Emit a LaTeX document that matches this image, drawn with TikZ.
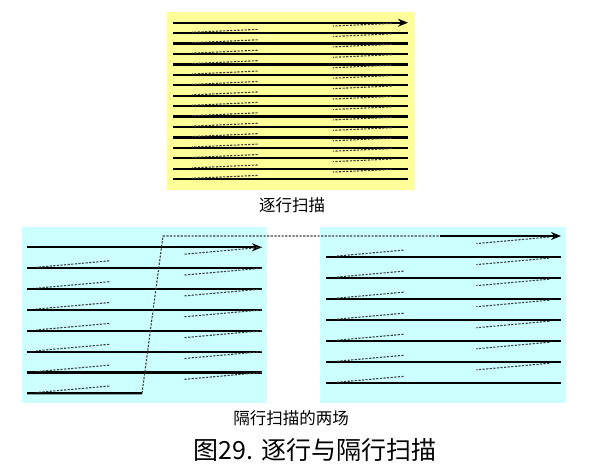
\documentclass[tikz,border=0pt]{standalone}
\usepackage{fontspec}
\newfontfamily\cjk{Noto Sans CJK SC}
\usetikzlibrary{arrows.meta,calc}
\definecolor{paleyellow}{RGB}{255,255,153}
\definecolor{palecyan}{RGB}{204,255,255}
\begin{document}
\begin{tikzpicture}[x=1pt,y=-1pt,
  scan/.style={line width=2.2pt},
  back/.style={black!75,line width=1.1pt,dash pattern=on 2.2pt off 1.4pt},
  tip/.style={-{Stealth[length=10pt,width=8pt]}}]
\useasboundingbox (0,0) rectangle (600,464);
\fill[paleyellow] (167,12) rectangle (415,190);
\fill[palecyan] (22,227) rectangle (267,403);
\fill[palecyan] (320,227) rectangle (566,403);
\foreach \i in {1,...,16} {
  \coordinate (a\i) at (173,{22.7+(\i-1)*10.43});
  \coordinate (b\i) at (408,{22.7+(\i-1)*10.43});
}
\draw[scan,tip] (a1)--(b1);
\foreach \i in {2,...,16} \draw[scan] (a\i)--(b\i);
\foreach \i [count=\j from 2] in {1,...,15} {
  \draw[back] ($(b\i)!0.07!(a\j)$)--($(b\i)!0.32!(a\j)$);
  \draw[back] ($(b\i)!0.64!(a\j)$)--($(b\i)!0.92!(a\j)$);
}
\foreach \i in {1,...,8} {
  \coordinate (c\i) at (27,{247.3+(\i-1)*20.86});
  \coordinate (d\i) at (262,{247.3+(\i-1)*20.86});
  \coordinate (e\i) at (326,{236+(\i-1)*21.04});
  \coordinate (f\i) at (561,{236+(\i-1)*21.04});
}
\coordinate (m) at (142,393.3);
\coordinate (n) at (163,236);
\coordinate (h) at (440,236);
\draw[scan,tip] (c1)--(d1);
\foreach \i in {2,...,7} \draw[scan] (c\i)--(d\i);
\draw[scan] (c8)--(m);
\draw[back] (m)--(n)--(h);
\draw[scan,tip] (h)--(f1);
\foreach \i in {2,...,8} \draw[scan] (e\i)--(f\i);
\foreach \i [count=\j from 2] in {1,...,7} {
  \draw[back] ($(d\i)!0!(c\j)$)--($(d\i)!0.33!(c\j)$);
  \draw[back] ($(d\i)!0.65!(c\j)$)--($(d\i)!0.96!(c\j)$);
  \draw[back] ($(f\i)!0.05!(e\j)$)--($(f\i)!0.36!(e\j)$);
  \draw[back] ($(f\i)!0.67!(e\j)$)--($(f\i)!0.96!(e\j)$);
}
\node (prog) at (292,205) {\cjk\fontsize{16.5}{18}\selectfont 逐行扫描};
\node (inter) at (291,418) {\cjk\fontsize{16.5}{18}\selectfont 隔行扫描的两场};
\node (cap) at (315,450) {\cjk\fontsize{25}{28}\selectfont 图29. 逐行与隔行扫描};
\end{tikzpicture}
\end{document}
